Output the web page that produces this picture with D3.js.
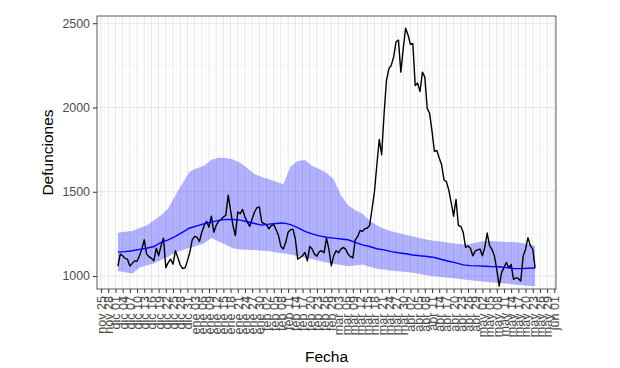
<!DOCTYPE html>
<html>
<head>
<meta charset="utf-8">
<script src="https://cdn.jsdelivr.net/npm/d3@7"></script>
<style>
  body { margin: 0; background: #fff; }
  svg { display: block; font-family: "Liberation Sans", Arial, sans-serif; }
</style>
</head>
<body>
<script>
// observed daily deaths, from 2019-12-02 to 2020-05-24
const startDate = new Date(2019, 11, 2);
const observed = [
  1059, 1130, 1120, 1105, 1100, 1060, 1075, 1090, 1088, 1120,
  1160, 1215, 1130, 1115, 1105, 1090, 1165, 1120, 1180, 1225,
  1050, 1080, 1100, 1070, 1150, 1110, 1065, 1045, 1048, 1090,
  1140, 1215, 1235, 1230, 1205, 1260, 1300, 1325, 1290, 1355,
  1260, 1300, 1325, 1335, 1350, 1360, 1480, 1390, 1300, 1240,
  1380, 1370, 1395, 1350, 1320, 1295, 1340, 1380, 1405, 1410,
  1320, 1310, 1305, 1280, 1300, 1305, 1275, 1240, 1175, 1160,
  1200, 1260, 1275, 1278, 1220, 1100, 1110, 1120, 1140, 1090,
  1175, 1160, 1130, 1118, 1145, 1150, 1138, 1225, 1160, 1060,
  1120, 1150, 1138, 1160, 1170, 1158, 1130, 1115, 1108, 1215,
  1235, 1270, 1265, 1280, 1285, 1300, 1400, 1500, 1660, 1810,
  1720, 1960, 2160, 2230, 2250, 2300, 2390, 2400, 2210, 2350,
  2470, 2430, 2375, 2380, 2130, 2145, 2095, 2210, 2180, 1995,
  1965, 1860, 1740, 1745, 1700, 1660, 1570, 1560, 1510, 1435,
  1355, 1455, 1300, 1295, 1260, 1170, 1178, 1165, 1120, 1148,
  1155, 1160, 1120, 1170, 1255, 1180, 1158, 1120, 1040, 940,
  1020, 1050, 1080, 1050, 1068, 980, 990, 985, 970, 1118,
  1158, 1228, 1180, 1160, 1049
];

// expected deaths and band, sampled every 3 days from the same start
const expectedStep = 3;
const expected = [
  1142, 1145, 1150, 1158, 1165, 1175, 1200, 1215, 1235, 1260,
  1285, 1298, 1310, 1320, 1330, 1336, 1335, 1332, 1322, 1312,
  1302, 1308, 1312, 1315, 1305, 1287, 1265, 1250, 1238, 1230,
  1225, 1220, 1215, 1200, 1185, 1175, 1162, 1155, 1145, 1138,
  1132, 1125, 1120, 1116, 1110, 1098, 1088, 1078, 1066, 1062,
  1060, 1058, 1056, 1055, 1050, 1045, 1044, 1046, 1048
];
const upper = [
  1257, 1262, 1267, 1285, 1300, 1330, 1360, 1400, 1480, 1550,
  1620, 1640, 1655, 1690, 1702, 1700, 1692, 1672, 1640, 1605,
  1588, 1575, 1560, 1545, 1650, 1682, 1688, 1655, 1635, 1612,
  1575, 1480, 1420, 1390, 1370, 1330, 1300, 1280, 1265, 1255,
  1245, 1235, 1225, 1215, 1210, 1205, 1198, 1192, 1188, 1190,
  1200, 1208, 1208, 1205, 1202, 1202, 1198, 1190, 1178
];
const lower = [
  1030, 1022, 1015, 1050, 1062, 1075, 1095, 1115, 1140, 1155,
  1168, 1180, 1195, 1225, 1205, 1185, 1165, 1158, 1156, 1154,
  1150, 1148, 1140, 1135, 1128, 1118, 1108, 1100, 1090, 1080,
  1072, 1065, 1058, 1062, 1068, 1055, 1043, 1038, 1032, 1028,
  1024, 1020, 1012, 1003, 998, 994, 990, 985, 980, 975,
  970, 966, 962, 958, 955, 950, 946, 943, 940
];

const yTicks = [1000, 1500, 2000, 2500];
const yMinor = [1250, 1750, 2250];
const monthNames = ["ene", "feb", "mar", "abr", "may", "jun", "jul", "ago", "sep", "oct", "nov", "dic"];
const xTickStart = new Date(2019, 10, 25);
const xTickEnd = new Date(2020, 5, 1);

const width = 620;
const height = 368;
const margin = { top: 16, right: 64, bottom: 79, left: 97 };

const obsData = observed.map((v, i) => ({ date: d3.timeDay.offset(startDate, i), value: v }));
const expData = expected.map((v, i) => ({
  date: d3.timeDay.offset(startDate, i * expectedStep),
  value: v,
  lo: lower[i],
  hi: upper[i]
}));

const xExt = d3.extent(obsData, d => d.date);
const pad = (xExt[1] - xExt[0]) * 0.05;
const x = d3.scaleTime()
  .domain([new Date(+xExt[0] - pad), new Date(+xExt[1] + pad)])
  .range([margin.left, width - margin.right]);

const y = d3.scaleLinear()
  .domain([923, 2543])
  .range([height - margin.bottom, margin.top]);

const xTicks = d3.timeDay.range(xTickStart, d3.timeDay.offset(xTickEnd, 1), 3);
// minor breaks halfway between the majors
const xMinor = xTicks.slice(0, -1).map(d => new Date(+d + 1.5 * 864e5));
const fmt = d => monthNames[d.getMonth()] + " " + String(d.getDate()).padStart(2, "0");

const svg = d3.select("body").append("svg")
  .attr("width", width)
  .attr("height", height);

// panel grid
const grid = svg.append("g");
grid.selectAll("line.vmin")
  .data(xMinor)
  .join("line")
  .attr("x1", d => x(d)).attr("x2", d => x(d))
  .attr("y1", margin.top).attr("y2", height - margin.bottom)
  .attr("stroke", "#f2f2f2").attr("stroke-width", 0.6);
grid.selectAll("line.hmin")
  .data(yMinor)
  .join("line")
  .attr("x1", margin.left).attr("x2", width - margin.right)
  .attr("y1", d => y(d)).attr("y2", d => y(d))
  .attr("stroke", "#f2f2f2").attr("stroke-width", 0.6);
grid.selectAll("line.vmaj")
  .data(xTicks)
  .join("line")
  .attr("x1", d => x(d)).attr("x2", d => x(d))
  .attr("y1", margin.top).attr("y2", height - margin.bottom)
  .attr("stroke", "#e6e6e6").attr("stroke-width", 1);
grid.selectAll("line.hmaj")
  .data(yTicks)
  .join("line")
  .attr("x1", margin.left).attr("x2", width - margin.right)
  .attr("y1", d => y(d)).attr("y2", d => y(d))
  .attr("stroke", "#e6e6e6").attr("stroke-width", 1);

// confidence band
svg.append("path")
  .datum(expData)
  .attr("fill", "blue")
  .attr("fill-opacity", 0.3)
  .attr("d", d3.area()
    .x(d => x(d.date))
    .y0(d => y(d.lo))
    .y1(d => y(d.hi)));

// observed
svg.append("path")
  .datum(obsData)
  .attr("fill", "none")
  .attr("stroke", "black")
  .attr("stroke-width", 1.4)
  .attr("stroke-linejoin", "round")
  .attr("d", d3.line().x(d => x(d.date)).y(d => y(d.value)));

// expected
svg.append("path")
  .datum(expData)
  .attr("fill", "none")
  .attr("stroke", "blue")
  .attr("stroke-width", 1.4)
  .attr("d", d3.line().x(d => x(d.date)).y(d => y(d.value)));

// panel border
svg.append("rect")
  .attr("x", margin.left).attr("y", margin.top)
  .attr("width", width - margin.left - margin.right)
  .attr("height", height - margin.top - margin.bottom)
  .attr("fill", "none")
  .attr("stroke", "#333").attr("stroke-width", 0.8);

// axes
const xAxis = svg.append("g")
  .attr("transform", `translate(0,${height - margin.bottom})`)
  .call(d3.axisBottom(x).tickValues(xTicks).tickFormat(fmt).tickSize(4).tickPadding(3));
xAxis.select(".domain").remove();
xAxis.selectAll("line").attr("stroke", "#333");
xAxis.selectAll("text")
  .attr("transform", "rotate(-90)")
  .attr("text-anchor", "end")
  .attr("x", -7)
  .attr("y", 0)
  .attr("dy", "0.35em")
  .attr("fill", "#4d4d4d")
  .style("font-size", "12.6px");

const yAxis = svg.append("g")
  .attr("transform", `translate(${margin.left},0)`)
  .call(d3.axisLeft(y).tickValues(yTicks).tickFormat(d3.format("d")).tickSize(4).tickPadding(3));
yAxis.select(".domain").remove();
yAxis.selectAll("line").attr("stroke", "#333");
yAxis.selectAll("text")
  .attr("fill", "#4d4d4d")
  .style("font-size", "12.4px");

// titles
svg.append("text")
  .attr("x", (margin.left + width - margin.right) / 2)
  .attr("y", 362)
  .attr("text-anchor", "middle")
  .style("font-size", "15.5px")
  .text("Fecha");

svg.append("text")
  .attr("transform", `translate(53,${(margin.top + height - margin.bottom) / 2}) rotate(-90)`)
  .attr("text-anchor", "middle")
  .style("font-size", "15.5px")
  .text("Defunciones");
</script>
</body>
</html>
